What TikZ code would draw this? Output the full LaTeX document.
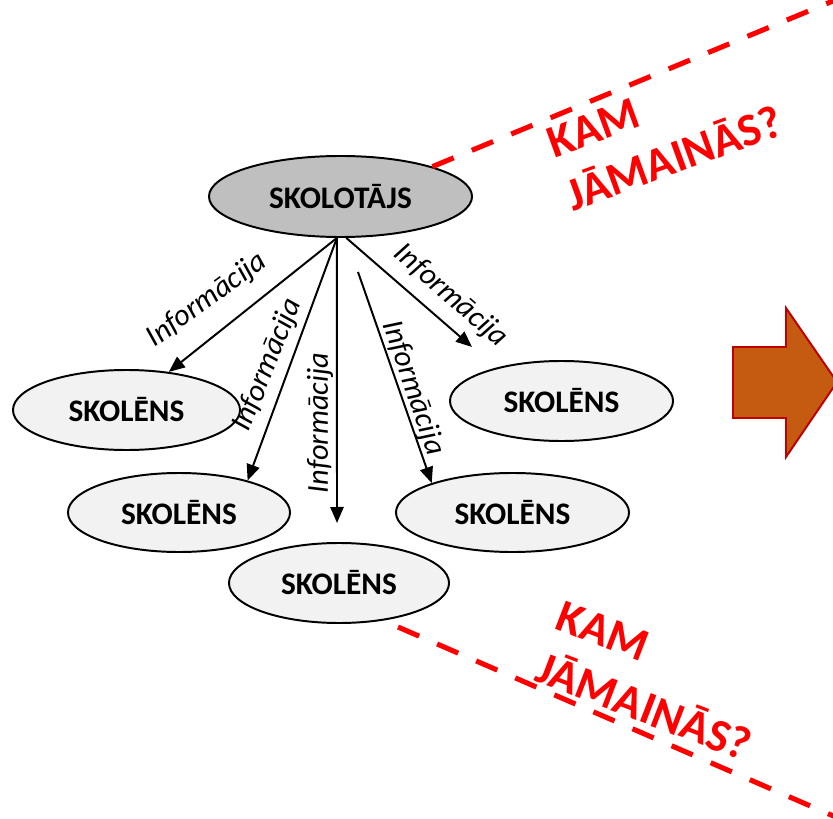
\documentclass[tikz,border=0pt]{standalone}
\usepackage{fontspec}
\setmainfont{Carlito}
\usetikzlibrary{shapes.geometric,arrows.meta}
\definecolor{arrowfill}{HTML}{C55A11}
\definecolor{arrowline}{HTML}{C00000}
\definecolor{teachergray}{HTML}{BFBFBF}
\definecolor{pupilgray}{HTML}{F2F2F2}
\begin{document}
\begin{tikzpicture}[x=0.025cm,y=-0.025cm,line width=1.4pt,>={Triangle[length=0.4cm,width=0.33cm]}]
\tikzstyle{teacher}=[draw,ellipse,fill=teachergray,minimum width=6.575cm,minimum height=2.025cm,font=\fontsize{22.3}{26}\selectfont\bfseries]
\tikzstyle{pupil}=[draw,ellipse,fill=pupilgray,minimum height=2cm,font=\fontsize{22.3}{26}\selectfont\bfseries]
\tikzstyle{info}=[font=\fontsize{21.6}{25}\selectfont\itshape]
\tikzstyle{ask}=[text=red,align=left,font=\fontsize{33}{40}\selectfont\bfseries]
\tikzstyle{cut}=[red,line width=3.6pt,dash pattern=on 0.575cm off 0.49cm]
\useasboundingbox (0,0) rectangle (833,819);
\clip (0,0) rectangle (833,819);

\node[teacher] at (340.5,196.5) (t) {SKOLOTĀJS};
\node[pupil,minimum width=5.675cm] at (126.5,410) (s1) {SKOLĒNS};
\node[pupil,minimum width=5.55cm,minimum height=1.975cm] at (179,512.5) (s2) {SKOLĒNS};
\node[pupil,minimum width=5.5cm] at (339,583) (s3) {SKOLĒNS};
\node[pupil,minimum width=5.825cm,minimum height=1.975cm] at (512.5,512.5) (s4) {SKOLĒNS};
\node[pupil,minimum width=5.575cm] at (561.5,401) (s5) {SKOLĒNS};

\coordinate (a4) at (358,272);
\coordinate (e3) at (337,523);
\coordinate (e5) at (472,347);
\draw[->] (t.265) -- (s1.42);
\draw[->] (t.265) -- (s2.25);
\draw[->] (t.265) -- (e3);
\draw[->] (a4) -- (s4.160);
\draw[->] (t.278) -- (e5);

\node[info,rotate=36] at (207,300) (i1) {Informācija};
\node[info,rotate=68] at (268,365) (i2) {Informācija};
\node[info,rotate=90] at (320,423) (i3) {Informācija};
\node[info,rotate=-71] at (413,388) (i4) {Informācija};
\node[info,rotate=-41] at (451,296) (i5) {Informācija};

\coordinate (c1) at (845,-4);
\coordinate (c2) at (398,627);
\coordinate (c3) at (845,821);
\draw[cut] (t.18) -- (c1);
\draw[cut] (c2) -- (c3);
\node[ask,rotate=20] at (665,132) (q1) {KAM\\JĀMAINĀS?};
\node[ask,rotate=-21] at (654,681) (q2) {KAM\\JĀMAINĀS?};

\draw[draw=arrowline,fill=arrowfill] (733,347) -- (786,347) -- (786,308) -- (837,382) -- (786,457) -- (786,418) -- (733,418) -- cycle;
\end{tikzpicture}
\end{document}
